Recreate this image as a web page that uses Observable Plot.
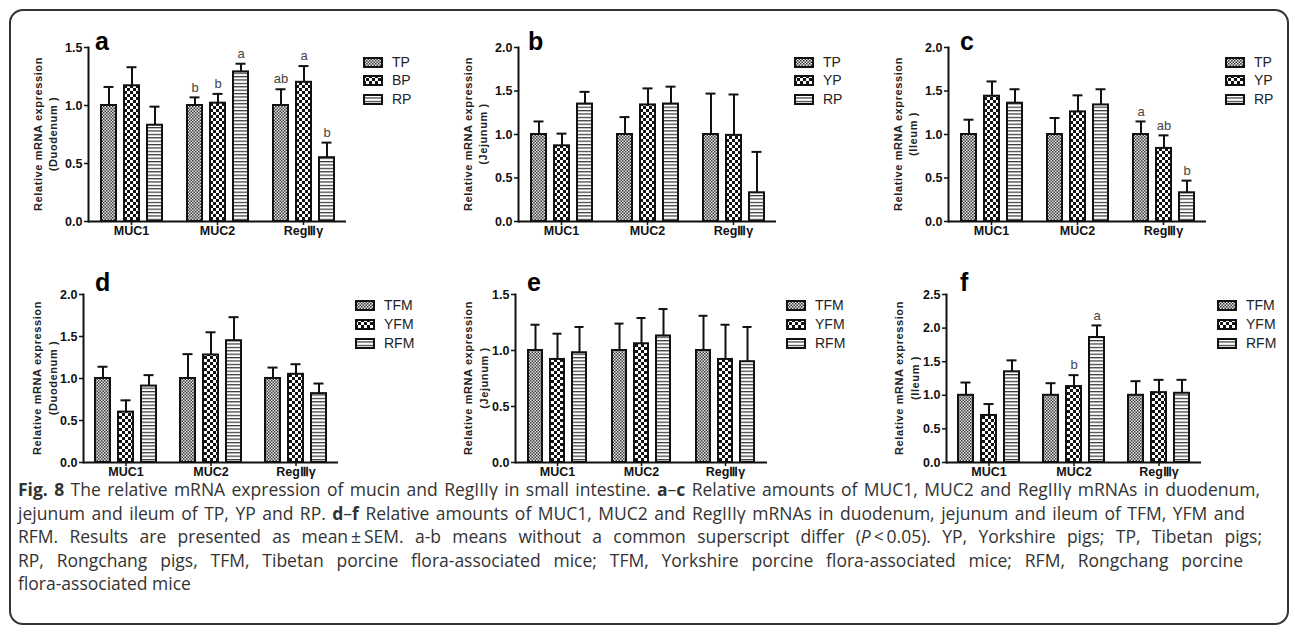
<!DOCTYPE html>
<html><head><meta charset="utf-8">
<script src="https://cdn.jsdelivr.net/npm/d3@7"></script>
<script src="https://cdn.jsdelivr.net/npm/@observablehq/plot@0.6"></script>
<style>
body{margin:0;background:#fff;width:1295px;height:634px;position:relative;overflow:hidden;font-family:"Liberation Sans",Arial,sans-serif;color:#111;}
.frame{position:absolute;left:9px;top:9px;width:1280px;height:616px;border:2px solid #333;border-radius:14px;box-sizing:border-box;}
.letter{position:absolute;font:bold 25px "Liberation Sans",Arial,sans-serif;line-height:1;color:#000;}
.ytitle{position:absolute;font:bold 11px "Liberation Sans",Arial,sans-serif;letter-spacing:0.6px;text-align:center;white-space:nowrap;color:#222;}
.leg{position:absolute;font:14px "Liberation Sans",Arial,sans-serif;color:#222;line-height:1;}
.cap{position:absolute;left:18px;font:17.5px "Open Sans",sans-serif;color:#333;text-align:justify;text-align-last:justify;line-height:14px;height:14px;}
.cap.last{text-align-last:left;}
svg.pl g[aria-label$="tick label"]{font-size:12.5px;font-weight:bold;}
</style>
</head><body>
<div class="frame"></div>
<svg width="0" height="0" style="position:absolute">
  <defs>
    <pattern id="pFine" patternUnits="userSpaceOnUse" width="3" height="3">
      <rect width="3" height="3" fill="#e6e6e6"/>
      <rect width="1.5" height="1.5" fill="#3a3a3a"/>
      <rect x="1.5" y="1.5" width="1.5" height="1.5" fill="#3a3a3a"/>
    </pattern>
    <pattern id="pCheck" patternUnits="userSpaceOnUse" width="6" height="6">
      <rect width="6" height="6" fill="#fff"/>
      <rect width="3" height="3" fill="#111"/>
      <rect x="3" y="3" width="3" height="3" fill="#111"/>
    </pattern>
    <pattern id="pStripe" patternUnits="userSpaceOnUse" width="4" height="3.4">
      <rect width="4" height="3.4" fill="#fff"/>
      <rect width="4" height="1.2" fill="#333"/>
    </pattern>
  </defs>
</svg>
<div id="root"></div>
<script>
// ---- data ----
const genes = ["MUC1", "MUC2", "RegⅢγ"];
const seriesA = ["TP", "BP", "RP"];
const seriesBC = ["TP", "YP", "RP"];
const seriesMice = ["TFM", "YFM", "RFM"];
const patternFills = ["url(#pFine)", "url(#pCheck)", "url(#pStripe)"];

// panel a (duodenum, pigs): rows = series, columns = genes
const aMean = [[1.00, 1.00, 1.00], [1.17, 1.02, 1.20], [0.83, 1.29, 0.55]];
const aTop  = [[1.16, 1.07, 1.14], [1.33, 1.10, 1.34], [0.99, 1.36, 0.68]];
const aSig  = [["", "b", "ab"], ["", "b", "a"], ["", "a", "b"]];
// panel b (jejunum, pigs)
const bMean = [[1.00, 1.00, 1.00], [0.87, 1.34, 0.99], [1.35, 1.35, 0.33]];
const bTop  = [[1.15, 1.20, 1.47], [1.01, 1.53, 1.46], [1.49, 1.55, 0.80]];
// panel c (ileum, pigs)
const cMean = [[1.00, 1.00, 1.00], [1.44, 1.26, 0.84], [1.36, 1.34, 0.33]];
const cTop  = [[1.17, 1.19, 1.15], [1.61, 1.45, 0.99], [1.52, 1.52, 0.47]];
const cSig  = [["", "", "a"], ["", "", "ab"], ["", "", "b"]];
// panel d (duodenum, mice)
const dMean = [[1.00, 1.00, 1.00], [0.60, 1.28, 1.05], [0.91, 1.45, 0.82]];
const dTop  = [[1.14, 1.29, 1.13], [0.74, 1.55, 1.17], [1.04, 1.73, 0.94]];
// panel e (jejunum, mice)
const eMean = [[1.00, 1.00, 1.00], [0.92, 1.06, 0.92], [0.98, 1.13, 0.90]];
const eTop  = [[1.23, 1.24, 1.31], [1.15, 1.29, 1.23], [1.21, 1.37, 1.21]];
// panel f (ileum, mice)
const fMean = [[1.00, 1.00, 1.00], [0.70, 1.13, 1.04], [1.35, 1.86, 1.03]];
const fTop  = [[1.19, 1.18, 1.21], [0.87, 1.30, 1.23], [1.52, 2.04, 1.23]];
const fSig  = [["", "", ""], ["", "b", ""], ["", "a", ""]];

const ticks15 = [0, 0.5, 1.0, 1.5];
const ticks20 = [0, 0.5, 1.0, 1.5, 2.0];
const ticks25 = [0, 0.5, 1.0, 1.5, 2.0, 2.5];

const panels = [
  {letter: "a", tissue: "Duodenum", series: seriesA, mean: aMean, top: aTop, sig: aSig, ticks: ticks15, ax: 87, ay: 47, w: 260, h: 174, lx: 95, ly: 29, legX: 363, legY: 62, legGap: 18.5},
  {letter: "b", tissue: "Jejunum", series: seriesBC, mean: bMean, top: bTop, sig: null, ticks: ticks20, ax: 517, ay: 47, w: 260, h: 174, lx: 528, ly: 29, legX: 794, legY: 62, legGap: 18.5},
  {letter: "c", tissue: "Ileum", series: seriesBC, mean: cMean, top: cTop, sig: cSig, ticks: ticks20, ax: 947, ay: 47, w: 260, h: 174, lx: 960, ly: 29, legX: 1225, legY: 62, legGap: 18.5},
  {letter: "d", tissue: "Duodenum", series: seriesMice, mean: dMean, top: dTop, sig: null, ticks: ticks20, ax: 83, ay: 294, w: 255, h: 168, lx: 95, ly: 270, legX: 355, legY: 305.5, legGap: 19},
  {letter: "e", tissue: "Jejunum", series: seriesMice, mean: eMean, top: eTop, sig: null, ticks: ticks15, ax: 514, ay: 294, w: 254, h: 168, lx: 527, ly: 270, legX: 786, legY: 305.5, legGap: 19},
  {letter: "f", tissue: "Ileum", series: seriesMice, mean: fMean, top: fTop, sig: fSig, ticks: ticks25, ax: 945, ay: 294, w: 257, h: 168, lx: 960, ly: 270, legX: 1217, legY: 305.5, legGap: 19}
];

const root = document.getElementById("root");
const ML = 36, MR = 12, MT = 22, MB = 20;

for (const p of panels) {
  const rows = [];
  p.series.forEach((s, i) => genes.forEach((g, j) => rows.push({
    gene: g, series: s, value: p.mean[i][j], err: p.top[i][j], sig: p.sig ? p.sig[i][j] : ""
  })));
  const ymax = p.ticks[p.ticks.length - 1];
  const chart = Plot.plot({
    className: "pl",
    width: ML + p.w + MR, height: MT + p.h + MB,
    marginLeft: ML, marginRight: MR, marginTop: MT, marginBottom: MB,
    style: {background: "transparent", overflow: "visible", fontFamily: "Liberation Sans, Arial, sans-serif", fontSize: "12.5px", color: "#111"},
    fx: {domain: genes, padding: 0, label: null},
    x: {domain: p.series, paddingInner: 0.35, paddingOuter: 0.52, axis: null},
    y: {domain: [0, ymax], label: null},
    color: {domain: p.series, range: patternFills},
    marks: [
      Plot.ruleX(rows, {fx: "gene", x: "series", y1: "value", y2: "err", stroke: "#111", strokeWidth: 2}),
      Plot.tickY(rows, {fx: "gene", x: "series", y: "err", stroke: "#111", strokeWidth: 2, inset: 2.5}),
      Plot.barY(rows, {fx: "gene", x: "series", y: "value", fill: "series", stroke: "#111", strokeWidth: 2}),
      Plot.text(rows.filter(d => d.sig), {fx: "gene", x: "series", y: "err", text: "sig", dy: -10, fontSize: 13, fill: "#444"}),
      Plot.ruleY([0], {stroke: "#111", strokeWidth: 2}),
      Plot.frame({anchor: "left", facetAnchor: "left", stroke: "#111", strokeWidth: 2}),
      Plot.axisY({ticks: p.ticks, tickFormat: d3.format(".1f"), tickSize: 4, tickPadding: 2, fontSize: 12.5, fontWeight: "bold", strokeWidth: 1.5, label: null}),
      Plot.axisFx({anchor: "bottom", tickSize: 4, tickPadding: 1, fontSize: 12.5, fontWeight: "bold", strokeWidth: 1.5, label: null})
    ]
  });
  chart.style.position = "absolute";
  chart.style.left = (p.ax - ML) + "px";
  chart.style.top = (p.ay - MT) + "px";
  root.appendChild(chart);

  // panel letter
  const L = document.createElement("div");
  L.className = "letter";
  L.textContent = p.letter;
  L.style.left = p.lx + "px";
  L.style.top = p.ly + "px";
  root.appendChild(L);

  // y title (two lines, rotated)
  const T = document.createElement("div");
  T.className = "ytitle";
  T.innerHTML = "Relative mRNA expression<br>(" + p.tissue + " )";
  T.style.lineHeight = (p.ay < 100 ? 15 : 16) + "px";
  T.style.left = (p.ax - (p.ay < 100 ? 41.5 : 38)) + "px";
  T.style.top = (p.ay + p.h / 2) + "px";
  T.style.transform = "translate(-50%,-50%) rotate(-90deg)";
  root.appendChild(T);

  // legend
  p.series.forEach((s, i) => {
    const cy = p.legY + i * p.legGap;
    const sw = document.createElementNS("http://www.w3.org/2000/svg", "svg");
    sw.setAttribute("width", 20); sw.setAttribute("height", 11);
    sw.style.position = "absolute";
    sw.style.left = p.legX + "px";
    sw.style.top = (cy - 5.5) + "px";
    const r = document.createElementNS("http://www.w3.org/2000/svg", "rect");
    r.setAttribute("x", 1); r.setAttribute("y", 1); r.setAttribute("width", 18); r.setAttribute("height", 9);
    r.setAttribute("fill", patternFills[i]); r.setAttribute("stroke", "#111"); r.setAttribute("stroke-width", 2);
    sw.appendChild(r);
    root.appendChild(sw);
    const t = document.createElement("div");
    t.className = "leg";
    t.textContent = s;
    t.style.left = (p.legX + 29) + "px";
    t.style.top = (cy - 7.5) + "px";
    root.appendChild(t);
  });
}

// caption
const capLines = [
  {w: 1242, html: '<b>Fig. 8</b> The relative mRNA expression of mucin and RegIIIγ in small intestine. <b>a</b>–<b>c</b> Relative amounts of MUC1, MUC2 and RegIIIγ mRNAs in duodenum,'},
  {w: 1227, html: 'jejunum and ileum of TP, YP and RP. <b>d</b>–<b>f</b> Relative amounts of MUC1, MUC2 and RegIIIγ mRNAs in duodenum, jejunum and ileum of TFM, YFM and'},
  {w: 1244, html: 'RFM. Results are presented as mean\u2009±\u2009SEM. a-b means without a common superscript differ (<i>P</i>\u2009&lt;\u20090.05). YP, Yorkshire pigs; TP, Tibetan pigs;'},
  {w: 1225, html: 'RP, Rongchang pigs, TFM, Tibetan porcine flora-associated mice; TFM, Yorkshire porcine flora-associated mice; RFM, Rongchang porcine'},
  {w: 1225, html: 'flora-associated mice', last: true}
];
capLines.forEach((c, i) => {
  const d = document.createElement("div");
  d.className = "cap" + (c.last ? " last" : "");
  d.style.width = c.w + "px";
  d.style.top = (482 + i * 23.5) + "px";
  d.innerHTML = c.html;
  root.appendChild(d);
});
</script>
</body></html>
